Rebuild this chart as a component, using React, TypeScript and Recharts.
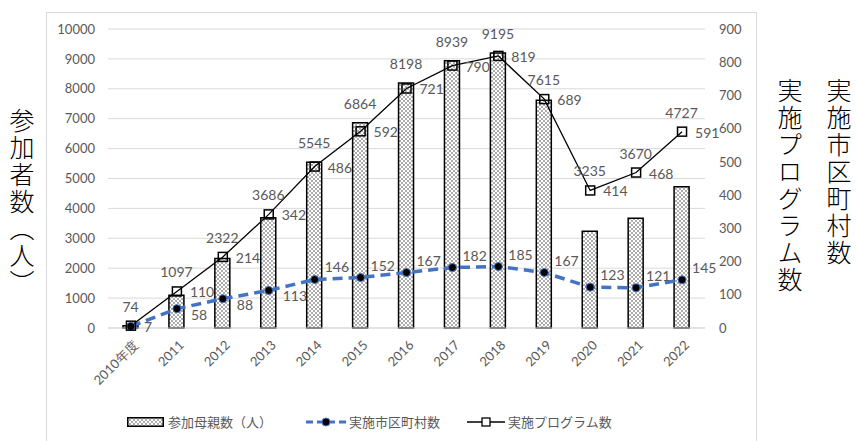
import {
  Bar,
  CartesianGrid,
  ComposedChart,
  LabelList,
  Legend,
  Line,
  XAxis,
  YAxis,
} from "recharts";

const years = [
  "2010年度", "2011", "2012", "2013", "2014", "2015", "2016",
  "2017", "2018", "2019", "2020", "2021", "2022",
];
const mothers = [74, 1097, 2322, 3686, 5545, 6864, 8198, 8939, 9195, 7615, 3235, 3670, 4727];
const municipalities = [5, 58, 88, 113, 146, 152, 167, 182, 185, 167, 123, 121, 145];
const programs = [7, 110, 214, 342, 486, 592, 721, 790, 819, 689, 414, 468, 591];
const leftTicks = [0, 1000, 2000, 3000, 4000, 5000, 6000, 7000, 8000, 9000, 10000];
const rightTicks = [0, 100, 200, 300, 400, 500, 600, 700, 800, 900];

const data = years.map((year, i) => ({
  year,
  mothers: mothers[i],
  municipalities: municipalities[i],
  programs: programs[i],
}));

const GRAY = "#595959";
const BLUE = "#4472C4";
const NUM_FONT = "Lato, 'Liberation Sans', sans-serif";
const JP_FONT = "'Noto Sans CJK JP', sans-serif";
const LEFT_MAX = 10000;
const RIGHT_MAX = 900;

// bar label sits above whichever is higher: bar top or program marker
const barLabel = (props: any) => {
  const { x, y, width, height, value, index } = props;
  const base = y + height;
  const perUnit = value ? height / value : 0;
  const progY = base - programs[index] * (LEFT_MAX / RIGHT_MAX) * perUnit;
  const ty = Math.min(y, progY) - 14;
  return (
    <text x={x + width / 2} y={ty} textAnchor="middle" fill={GRAY} fontSize={14} fontFamily={NUM_FONT}>
      {value}
    </text>
  );
};

const progLabel = (props: any) => {
  const { x, y, value } = props;
  return (
    <text x={x + 13} y={y + 6} fill={GRAY} fontSize={14} fontFamily={NUM_FONT}>
      {value}
    </text>
  );
};

// early points: label below-right of the dot, later ones above-right
const muniLabel = (props: any) => {
  const { x, y, value, index } = props;
  if (index === 0) return null;
  const below = index <= 3;
  return (
    <text
      x={x + (below ? 14 : 10)}
      y={below ? y + 11 : y - 7}
      fill={GRAY}
      fontSize={14}
      fontFamily={NUM_FONT}
    >
      {value}
    </text>
  );
};

const squareDot = (props: any) => {
  const { cx, cy, index } = props;
  return (
    <rect key={index} x={cx - 4.5} y={cy - 4.5} width={9} height={9} fill="none" stroke="#000" strokeWidth={1.5} />
  );
};

const roundDot = (props: any) => {
  const { cx, cy, index } = props;
  return <circle key={index} cx={cx} cy={cy} r={4} fill="#000" stroke={BLUE} strokeWidth={1} />;
};

const yearTick = (props: any) => {
  const { x, y, payload } = props;
  return (
    <text
      x={x + 8}
      y={y + 10}
      textAnchor="end"
      transform={`rotate(-45 ${x + 8} ${y + 10})`}
      fill={GRAY}
      fontSize={13}
      fontFamily={NUM_FONT}
    >
      {payload.value}
    </text>
  );
};

const LegendBox = () => (
  <div
    style={{
      display: "flex",
      alignItems: "center",
      fontFamily: JP_FONT,
      fontSize: 13,
      color: GRAY,
      whiteSpace: "nowrap",
    }}
  >
    <svg width={37} height={10}>
      <rect x={0.75} y={0.75} width={35.5} height={8.5} fill="url(#dots)" stroke="#000" strokeWidth={1.5} />
    </svg>
    <span style={{ marginLeft: 4 }}>参加母親数（人）</span>
    <svg width={40} height={12} style={{ marginLeft: 34 }}>
      <line x1={0} y1={6} x2={40} y2={6} stroke={BLUE} strokeWidth={3} strokeDasharray="7 4" />
      <circle cx={20} cy={6} r={4} fill="#000" stroke={BLUE} />
    </svg>
    <span style={{ marginLeft: 3 }}>実施市区町村数</span>
    <svg width={38} height={12} style={{ marginLeft: 27 }}>
      <line x1={0} y1={6} x2={38} y2={6} stroke="#000" strokeWidth={1.3} />
      <rect x={15} y={2} width={8} height={8} fill="#fff" stroke="#000" strokeWidth={1.3} />
    </svg>
    <span style={{ marginLeft: 3 }}>実施プログラム数</span>
  </div>
);

const vTitle = (text: string, left: number, top: number) => (
  <div
    style={{
      position: "absolute",
      left,
      top,
      writingMode: "vertical-rl",
      fontFamily: JP_FONT,
      fontWeight: 300,
      fontSize: 25,
      letterSpacing: 2,
      color: "#000",
      lineHeight: 1,
    }}
  >
    {text}
  </div>
);

export default function App() {
  return (
    <div style={{ position: "absolute", left: 0, top: 0, width: 856, height: 441, background: "#fff" }}>
      <div
        style={{
          position: "absolute",
          left: 46,
          top: 12,
          width: 709,
          height: 432,
          border: "1px solid #d9d9d9",
        }}
      />
      {vTitle("参加者数（人）", 9, 108)}
      {vTitle("実施プログラム数", 777, 78)}
      {vTitle("実施市区町村数", 826, 78)}
      <div style={{ position: "absolute", left: 47, top: 12 }}>
        <ComposedChart
          width={710}
          height={429}
          data={data}
          margin={{ top: 17, right: 0, bottom: 0, left: 0 }}
          barSize={15}
        >
          <defs>
            <pattern id="dots" width={4} height={4} patternUnits="userSpaceOnUse">
              <rect width={4} height={4} fill="#fff" />
              <circle cx={1} cy={1} r={0.75} fill="#333" />
              <circle cx={3} cy={3} r={0.75} fill="#333" />
            </pattern>
          </defs>
          <CartesianGrid vertical={false} stroke="#d9d9d9" yAxisId="left" />
          <XAxis
            dataKey="year"
            interval={0}
            tick={yearTick}
            tickLine={false}
            axisLine={{ stroke: "#d9d9d9" }}
            height={94}
          />
          <YAxis
            yAxisId="left"
            orientation="left"
            width={61}
            domain={[0, LEFT_MAX]}
            ticks={leftTicks}
            axisLine={false}
            tickLine={false}
            tickSize={0}
            tickMargin={13}
            tick={{ fill: GRAY, fontSize: 13, fontFamily: NUM_FONT }}
          />
          <YAxis
            yAxisId="right"
            orientation="right"
            width={52}
            domain={[0, RIGHT_MAX]}
            ticks={rightTicks}
            axisLine={false}
            tickLine={false}
            tickSize={0}
            tickMargin={14}
            tick={{ fill: GRAY, fontSize: 13, fontFamily: NUM_FONT }}
          />
          <Bar
            yAxisId="left"
            dataKey="mothers"
            fill="url(#dots)"
            stroke="#000"
            strokeWidth={1.5}
            isAnimationActive={false}
          >
            <LabelList dataKey="mothers" content={barLabel} />
          </Bar>
          <Line
            yAxisId="right"
            type="linear"
            dataKey="municipalities"
            stroke={BLUE}
            strokeWidth={3.5}
            strokeDasharray="10 6"
            dot={roundDot}
            activeDot={false}
            isAnimationActive={false}
          >
            <LabelList dataKey="municipalities" content={muniLabel} />
          </Line>
          <Line
            yAxisId="right"
            type="linear"
            dataKey="programs"
            stroke="#000"
            strokeWidth={1.3}
            dot={squareDot}
            activeDot={false}
            isAnimationActive={false}
          >
            <LabelList dataKey="programs" content={progLabel} />
          </Line>
          <Legend
            content={() => <LegendBox />}
            wrapperStyle={{ left: 80, bottom: 10, width: "auto" }}
          />
        </ComposedChart>
      </div>
    </div>
  );
}
